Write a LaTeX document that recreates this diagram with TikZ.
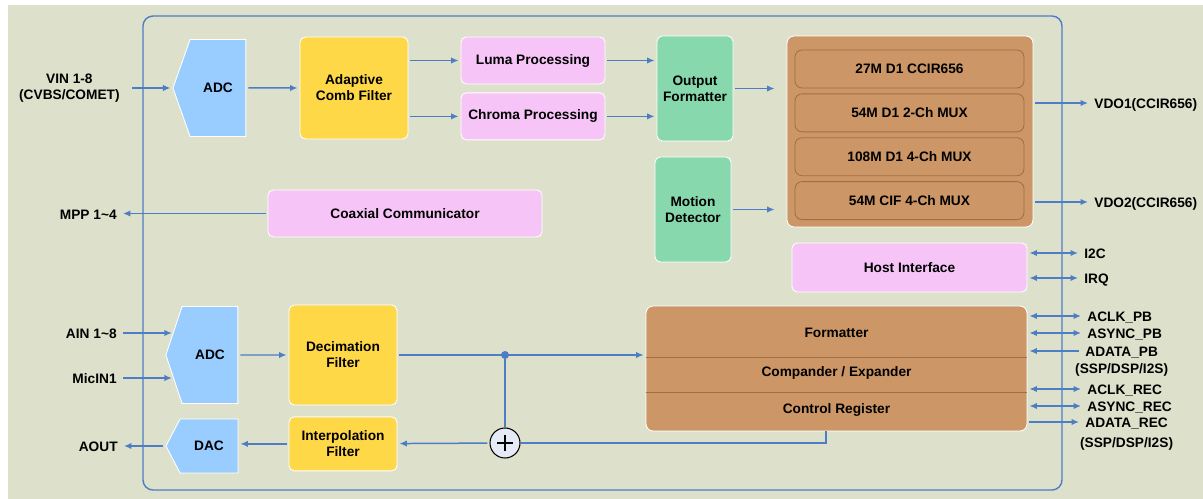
\documentclass[tikz,border=0pt]{standalone}
\usepackage{fontspec}
\setmainfont{Liberation Sans}
\usetikzlibrary{shapes,arrows.meta,positioning}
\definecolor{bgcol}{RGB}{221,225,203}
\definecolor{wire}{RGB}{77,125,196}
\definecolor{adcblue}{RGB}{153,204,255}
\definecolor{filtyellow}{RGB}{255,216,72}
\definecolor{procpink}{RGB}{246,196,246}
\definecolor{fmtgreen}{RGB}{135,216,172}
\definecolor{muxbrown}{RGB}{204,150,102}
\definecolor{rowedge}{RGB}{160,112,68}
\definecolor{sumfill}{RGB}{230,234,246}
\tikzstyle{block} = [rectangle, draw=white, line width=0.5pt, rounded corners=3pt,
    align=center, inner sep=1pt]
\tikzstyle{filter} = [block, fill=filtyellow, minimum width=2.16cm]
\tikzstyle{proc} = [block, fill=procpink, minimum height=0.94cm]
\tikzstyle{fmt} = [block, fill=fmtgreen, minimum width=1.52cm, minimum height=2.1cm]
\tikzstyle{mux} = [block, fill=muxbrown, rounded corners=4pt]
\tikzstyle{muxrow} = [rectangle, draw=rowedge, line width=0.5pt, fill=muxbrown, rounded corners=4pt,
    minimum width=4.58cm, minimum height=0.76cm]
\tikzstyle{conv} = [signal, signal to=west, draw=white, line width=0.5pt, fill=adcblue,
    minimum width=1.44cm, inner sep=1pt]
\tikzstyle{iolabel} = [inner xsep=0.08cm, inner ysep=0pt, text height=1.6ex, text depth=0.4ex]
\tikzstyle{line} = [draw=wire, line width=0.85pt, -{Latex[length=0.15cm,width=0.13cm]},
    shorten >=0.04cm, shorten <=0.04cm]
\tikzstyle{bus} = [line, {Latex[length=0.15cm,width=0.13cm]}-{Latex[length=0.15cm,width=0.13cm]}]
\tikzstyle{wireonly} = [draw=wire, line width=0.85pt]
\tikzstyle{tapdot} = [circle, fill=wire, minimum size=0.16cm, inner sep=0pt]
\tikzstyle{adder} = [circle, draw=black, line width=0.6pt, fill=sumfill, minimum size=0.6cm, inner sep=0pt,
    path picture={\draw[line width=0.6pt] ([yshift=-0.14cm]path picture bounding box.north) -- ([yshift=0.14cm]path picture bounding box.south)
      ([xshift=0.14cm]path picture bounding box.west) -- ([xshift=-0.14cm]path picture bounding box.east);}]

\begin{document}
\begin{tikzpicture}[x=0.02cm, y=-0.02cm, every node/.style={font=\fontsize{7.8}{9}\selectfont\bfseries}]
      % Page and chip outline
      \fill[white] (0,0) rectangle (1203,499);
      \fill[bgcol] (8,5) rectangle (1203,499);
      \useasboundingbox (0,0) rectangle (1203,499);
      \draw[wire, line width=0.8pt, rounded corners=0.2cm] (143,16) rectangle (1062,490);
      % Video path
      \node [conv, minimum width=1.46cm, minimum height=1.94cm, signal pointer angle=141] (adc1) at (218,88) {ADC};
      \node [filter, minimum height=2.04cm] (comb) at (354,88) {Adaptive\\Comb Filter};
      \node [proc, minimum width=2.88cm] (luma) at (533,60.5) {Luma Processing};
      \node [proc, minimum width=2.88cm, below=0.16cm of luma] (chroma) {Chroma Processing};
      \node [fmt] (outfmt) at (695,88.5) {Output\\Formatter};
      \node [fmt] (motion) at (693,209.5) {Motion\\Detector};
      \node [mux, minimum width=4.92cm, minimum height=3.82cm] (muxblk) at (910,131.5) {};
      \node [muxrow] (row1) at (909.5,69) {27M D1 CCIR656};
      \node [muxrow, below=0.1cm of row1] (row2) {54M D1 2-Ch MUX};
      \node [muxrow, below=0.1cm of row2] (row3) {108M D1 4-Ch MUX};
      \node [muxrow, below=0.1cm of row3] (row4) {54M CIF 4-Ch MUX};
      \node [proc, minimum width=5.48cm] (coax) at (405,213.5) {Coaxial Communicator};
      \node [proc, minimum width=4.7cm, minimum height=0.98cm] (host) at (909.5,267.5) {Host Interface};
      % Video pins
      \node [anchor=east, inner xsep=0.2cm, align=center] (vin) at (130,88) {VIN 1-8\\(CVBS/COMET)};
      \node [iolabel, anchor=east] (mpp) at (121,213.5) {MPP 1\textasciitilde4};
      \node [iolabel, anchor=west] (vdo1) at (1090,103) {VDO1(CCIR656)};
      \node [iolabel, anchor=west] (vdo2) at (1090,202) {VDO2(CCIR656)};
      \node [iolabel, anchor=west] (i2c) at (1080,253) {I2C};
      \node [iolabel, anchor=west] (irq) at (1080,278) {IRQ};
      % Audio path
      \node [conv, minimum height=1.94cm, signal pointer angle=143] (adc2) at (210,355) {ADC};
      \node [filter, minimum height=2.0cm] (decim) at (343,355) {Decimation\\Filter};
      \node [filter, minimum height=1.08cm, below=0.22cm of decim] (interp) {Interpolation\\Filter};
      \node [conv, minimum height=1.08cm, signal pointer angle=125] (dac) at (209,446) {DAC};
      \node [adder] (sum) at (505,443) {};
      \node [tapdot] (tap) at (sum |- decim) {};
      \node [mux, minimum width=7.62cm, minimum height=2.5cm] (audblk) at (836.5,368.5) {};
      \node (fmtrow) at (836.5,333) {Formatter};
      \node (cmprow) at (836.5,373) {Compander / Expander};
      \node (ctlrow) at (836.5,410) {Control Register};
      \draw [rowedge, line width=0.6pt] ([yshift=-1.04cm]audblk.north west) -- ([yshift=-1.04cm]audblk.north east);
      \draw [rowedge, line width=0.6pt] ([yshift=-1.74cm]audblk.north west) -- ([yshift=-1.74cm]audblk.north east);
      % Audio pins
      \node [iolabel, anchor=east] (ain) at (121,333) {AIN 1\textasciitilde8};
      \node [iolabel, anchor=east] (mic) at (121,378) {MicIN1};
      \node [iolabel, anchor=east] (aout) at (122,446) {AOUT};
      \node [iolabel, anchor=west] (aclkpb) at (1083,316) {ACLK\_PB};
      \node [iolabel, anchor=west] (asyncpb) at (1083,333) {ASYNC\_PB};
      \node [iolabel, anchor=west] (adatapb) at (1081,351) {ADATA\_PB};
      \node [iolabel] (adatapbsub) at ([yshift=-0.34cm]adatapb.center) {(SSP/DSP/I2S)};
      \node [iolabel, anchor=west] (aclkrec) at (1083,389) {ACLK\_REC};
      \node [iolabel, anchor=west] (asyncrec) at (1083,406) {ASYNC\_REC};
      \node [iolabel, anchor=west] (adatarec) at (1081,422) {ADATA\_REC};
      \node [iolabel] (adatarecsub) at ([yshift=-0.4cm]adatarec.center) {(SSP/DSP/I2S)};
      % Draw edges
      \path [line] (vin.east) -- (adc1.west);
      \path [line] (adc1) -- (comb);
      \path [line] (comb.east |- luma) -- (luma);
      \path [line] (comb.east |- chroma) -- (chroma);
      \path [line] (luma) -- (luma -| outfmt.west);
      \path [line] (chroma) -- (chroma -| outfmt.west);
      \path [line, shorten >=0.24cm] (outfmt) -- (outfmt -| muxblk.west);
      \path [line, shorten >=0.24cm] (motion) -- (motion -| muxblk.west);
      \path [line] (muxblk.east |- vdo1) -- (vdo1);
      \path [line] (muxblk.east |- vdo2) -- (vdo2);
      \path [line] (coax) -- (mpp);
      \path [bus] (host.east |- i2c) -- (i2c);
      \path [bus] (host.east |- irq) -- (irq);
      \path [line] (ain) -- (ain -| adc2.145);
      \path [line] (mic) -- (mic -| adc2.215);
      \path [line] (adc2) -- (decim);
      \path [line] (decim) -- (decim -| audblk.west);
      \draw [wireonly] (tap) -- (sum);
      \draw [wireonly] ([xshift=-0.21cm]audblk.south) |- (sum);
      \path [line] (sum) -- (interp);
      \path [line] (interp) -- (interp -| dac.east);
      \path [line] (dac.west) -- (aout);
      \path [bus] (audblk.east |- aclkpb) -- (aclkpb);
      \path [bus] (audblk.east |- asyncpb) -- (asyncpb);
      \path [line] (adatapb) -- (adatapb -| audblk.east);
      \path [bus] (audblk.east |- aclkrec) -- (aclkrec);
      \path [bus] (audblk.east |- asyncrec) -- (asyncrec);
      \path [line] (audblk.east |- adatarec) -- (adatarec);
\end{tikzpicture}
\end{document}
